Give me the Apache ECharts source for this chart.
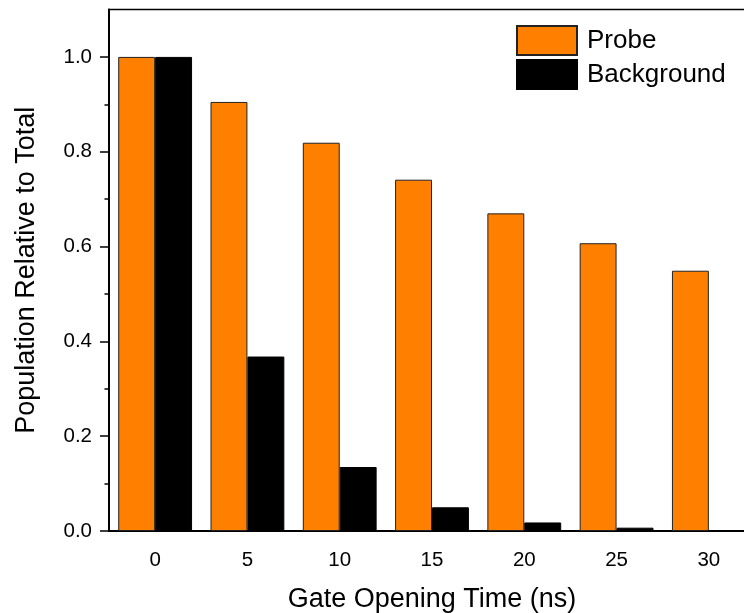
<!DOCTYPE html>
<html>
<head>
<meta charset="utf-8">
<script src="https://cdn.jsdelivr.net/npm/echarts@6/dist/echarts.min.js"></script>
<style>
  html, body { margin: 0; padding: 0; background: #fff; }
  #chart { width: 744px; height: 613px; }
</style>
</head>
<body>
<div id="chart"></div>
<script>
// gate opening time (ns)
const gateTimes = ["0", "5", "10", "15", "20", "25", "30"];
const probeValues = [1.0, 0.905, 0.819, 0.741, 0.670, 0.607, 0.549];
const backgroundValues = [1.0, 0.368, 0.135, 0.050, 0.018, 0.007, 0.002];
const yTicks = [0, 0.2, 0.4, 0.6, 0.8, 1.0];
const yMinorTicks = [0.1, 0.3, 0.5, 0.7, 0.9];

const font = "Liberation Sans, Arial, sans-serif";
const chart = echarts.init(document.getElementById("chart"));

const option = {
  animation: false,
  grid: {
    left: 109,
    top: 9.5,
    width: 646,
    bottom: 82,
    outerBoundsMode: "none",
    show: true,
    borderColor: "#000",
    borderWidth: 1.5
  },
  legend: {
    orient: "vertical",
    left: 516,
    top: 25,
    padding: 0,
    itemWidth: 60,
    itemHeight: 29,
    itemGap: 3,
    icon: "rect",
    textStyle: {
      fontFamily: font,
      fontSize: 26,
      color: "#000",
      padding: [0, 0, 0, 5]
    },
    data: ["Probe", "Background"]
  },
  xAxis: {
    type: "category",
    data: gateTimes,
    name: "Gate Opening Time (ns)",
    nameLocation: "middle",
    nameGap: 55,
    nameTextStyle: { fontFamily: font, fontSize: 27, color: "#000" },
    axisLine: { lineStyle: { color: "#000", width: 2 } },
    axisTick: { alignWithLabel: true, length: 9, lineStyle: { color: "#000", width: 1.5 } },
    axisLabel: { fontFamily: font, fontSize: 20.5, color: "#000", margin: 19 },
    splitLine: { show: false }
  },
  yAxis: [
    {
      type: "value",
      min: 0,
      max: 1.1,
      name: "Population Relative to Total",
      nameLocation: "middle",
      nameGap: 69,
      nameTextStyle: { fontFamily: font, fontSize: 27, color: "#000" },
      axisLine: { show: true, lineStyle: { color: "#000", width: 2 } },
      axisTick: { show: true, length: 9, customValues: yTicks, lineStyle: { color: "#000", width: 1.5 } },
      axisLabel: {
        fontFamily: font, fontSize: 20.5, color: "#000", margin: 17,
        customValues: yTicks,
        formatter: v => v.toFixed(1)
      },
      splitLine: { show: false }
    },
    {
      // minor ticks only
      type: "value",
      min: 0,
      max: 1.1,
      position: "left",
      axisLine: { show: false },
      axisTick: { show: true, length: 4.5, customValues: yMinorTicks, lineStyle: { color: "#000", width: 1.5 } },
      axisLabel: { show: false },
      splitLine: { show: false }
    }
  ],
  series: [
    {
      name: "Probe",
      type: "bar",
      data: probeValues,
      barGap: "0%",
      barCategoryGap: "20%",
      itemStyle: { color: "#ff8000", borderColor: "#222", borderWidth: 1 }
    },
    {
      name: "Background",
      type: "bar",
      data: backgroundValues,
      barGap: "0%",
      barCategoryGap: "20%",
      itemStyle: { color: "#000", borderColor: "#000", borderWidth: 1 }
    }
  ]
};

chart.setOption(option);
</script>
</body>
</html>
